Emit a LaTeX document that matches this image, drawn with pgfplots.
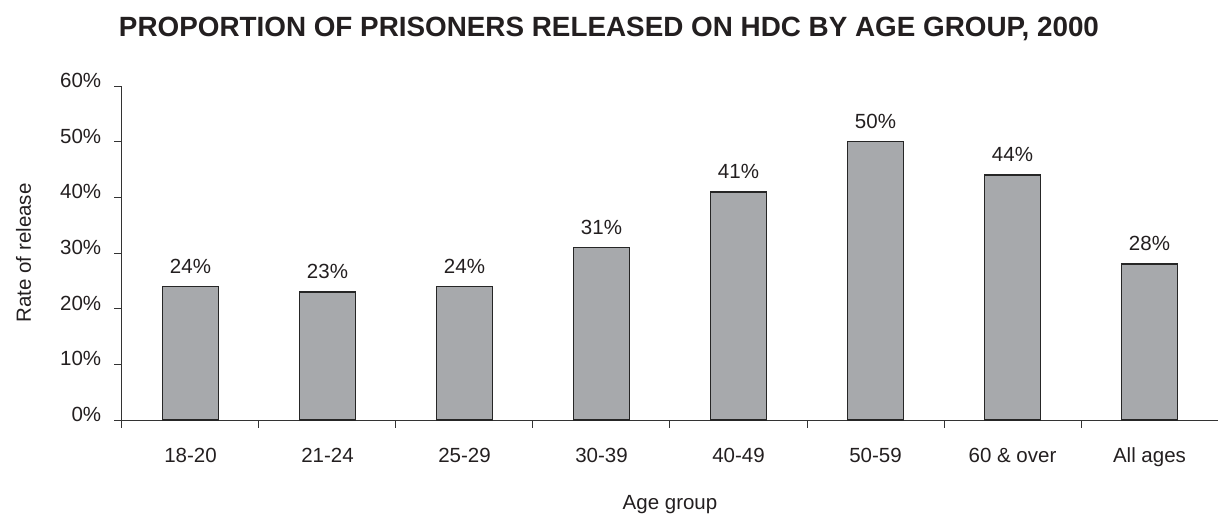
\documentclass[border=0pt]{standalone}
\usepackage{pgfplots}
\pgfplotsset{compat=1.18}
\usepackage{fontspec}
\setmainfont{Liberation Sans}
\definecolor{barfill}{RGB}{167,169,172}
\definecolor{txt}{RGB}{35,31,32}
\newcommand\tickfont{\fontsize{12.3}{14}\selectfont}
\begin{document}
\begin{tikzpicture}
\begin{axis}[name=ax, anchor=south west, at={(0,0)},
  scale only axis, width=657.6pt, height=200.4pt,
  xmin=-0.5, xmax=7.5, ymin=0, ymax=60,
  /pgf/number format/assume math mode=true,
  axis x line*=bottom, axis y line*=left,
  axis line style={line width=0.6pt, draw=black!80},
  tick style={line width=0.6pt, draw=black!80},
  tick align=outside, major tick length=4.5pt,
  xtick={-0.5,0.5,...,7.5}, xticklabels={},
  extra x ticks={0,1,2,3,4,5,6,7},
  extra x tick labels={18-20,21-24,25-29,30-39,40-49,50-59,60 \& over,All ages},
  extra x tick style={major tick length=0pt},
  x tick label style={anchor=base, inner sep=0pt, yshift=-25.4pt, font=\tickfont, text=txt},
  ytick={0,10,...,60},
  yticklabel={\pgfmathprintnumber{\tick}\%},
  y tick label style={anchor=base east, inner sep=0pt, xshift=-7.8pt, yshift=-0.8pt, font=\tickfont, text=txt},
  clip=false,
  nodes near coords={\pgfmathprintnumber{\pgfplotspointmeta}\%},
  every node near coord/.append style={anchor=base, inner sep=0pt, yshift=8pt, font=\tickfont, text=txt},
]
\addplot[ybar, bar width=33.4pt, fill=barfill, draw=black!85, line width=0.9pt]
  coordinates {(0,24) (1,23) (2,24) (3,31) (4,41) (5,50) (6,44) (7,28)};
\end{axis}
\node[anchor=base, text=txt, font=\fontsize{16.7}{20}\selectfont\bfseries] at ([shift={(292.2pt,230.4pt)}]ax.south west) {PROPORTION OF PRISONERS RELEASED ON HDC BY AGE GROUP, 2000};
\node[anchor=base, rotate=90, text=txt, font=\tickfont, inner sep=0pt] at ([shift={(-54.6pt,100.2pt)}]ax.south west) {Rate of release};
\node[anchor=base, text=txt, font=\tickfont, inner sep=0pt] at ([shift={(328.8pt,-53.4pt)}]ax.south west) {Age group};
\pgfresetboundingbox
\useasboundingbox ([shift={(-73.2pt,-57pt)}]ax.south west) rectangle ([shift={(657.6pt,252pt)}]ax.south west);
\end{tikzpicture}
\end{document}
